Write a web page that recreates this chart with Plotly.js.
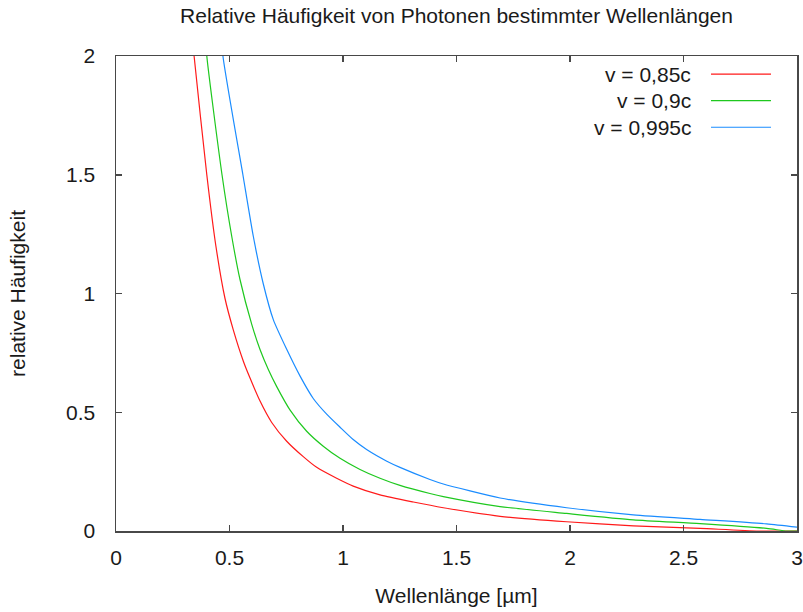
<!DOCTYPE html>
<html>
<head>
<meta charset="utf-8">
<script src="https://cdn.plot.ly/plotly-3.0.1.min.js"></script>
<style>body{margin:0;background:#fff}</style>
</head>
<body>
<div id="chart" style="width:803px;height:612px"></div>
<script>
// Series names
const seriesNames = ["v = 0,85c", "v = 0,9c", "v = 0,995c"];
const seriesColors = ["#ff1a1a", "#1ec81e", "#1a8cff"];

// v = 0,85c
const redX = [0.33, 0.344, 0.40, 0.44, 0.48, 0.517, 0.561, 0.59, 0.634, 0.686, 0.752, 0.825, 0.884, 0.972, 1.045, 1.163, 1.31, 1.442, 1.692, 1.985, 2.279, 2.573, 2.83, 3.0];
const redY = [2.15, 2.0, 1.5, 1.2, 0.98, 0.846, 0.715, 0.645, 0.548, 0.457, 0.378, 0.313, 0.268, 0.222, 0.189, 0.152, 0.122, 0.098, 0.062, 0.039, 0.022, 0.011, 0.0, 0.0];

// v = 0,9c
const greenX = [0.39, 0.40, 0.467, 0.51, 0.546, 0.598, 0.634, 0.671, 0.708, 0.767, 0.84, 0.913, 0.987, 1.075, 1.163, 1.251, 1.383, 1.442, 1.692, 1.985, 2.279, 2.573, 2.866, 2.955, 3.0];
const greenY = [2.15, 2.0, 1.5, 1.24, 1.06, 0.87, 0.765, 0.68, 0.608, 0.509, 0.42, 0.357, 0.306, 0.259, 0.222, 0.192, 0.158, 0.145, 0.103, 0.074, 0.047, 0.031, 0.011, 0.0, 0.0];

// v = 0,995c
const blueX = [0.46, 0.471, 0.559, 0.605, 0.649, 0.693, 0.752, 0.811, 0.869, 0.928, 0.987, 1.045, 1.104, 1.193, 1.251, 1.383, 1.442, 1.692, 1.985, 2.279, 2.573, 2.866, 3.0];
const blueY = [2.15, 2.0, 1.5, 1.24, 1.04, 0.89, 0.765, 0.652, 0.558, 0.492, 0.437, 0.385, 0.343, 0.294, 0.268, 0.217, 0.198, 0.139, 0.098, 0.068, 0.049, 0.030, 0.016];

// Axis ticks
const xTicks = [0, 0.5, 1, 1.5, 2, 2.5, 3];
const xTickLabels = ["0", "0.5", "1", "1.5", "2", "2.5", "3"];
const yTicks = [0, 0.5, 1, 1.5, 2];
const yTickLabels = ["0", "0.5", "1", "1.5", "2"];

const xs = [redX, greenX, blueX];
const ys = [redY, greenY, blueY];

const traces = seriesNames.map((n, i) => ({
  type: "scatter", mode: "lines", name: n,
  x: xs[i], y: ys[i],
  line: {color: seriesColors[i], width: 1.2, shape: "spline", smoothing: 0.6},
  showlegend: false, hoverinfo: "skip"
}));

const FONT = "Liberation Sans, Arial, sans-serif";
const TXT = "#1a1a1a";
const AXC = "#484848";
const FS = 21;

// legend rows (text right-aligned, sample line to the right)
const legendRowY = [0.962, 0.906, 0.850];
const annotations = seriesNames.map((n, i) => ({
  xref: "paper", yref: "paper", x: 0.847, y: legendRowY[i],
  xanchor: "right", yanchor: "middle", text: n, showarrow: false,
  font: {family: FONT, size: FS, color: TXT}
}));
const shapes = seriesNames.map((n, i) => ({
  type: "line", xref: "paper", yref: "paper",
  x0: 0.8737, x1: 0.9618, y0: legendRowY[i], y1: legendRowY[i],
  line: {color: seriesColors[i], width: 1.2}
}));

const axisCommon = {
  showgrid: false, zeroline: false, showline: true, mirror: "ticks",
  linecolor: AXC, linewidth: 1.5,
  ticks: "inside", ticklen: 6, tickwidth: 1.5, tickcolor: AXC,
  tickfont: {family: FONT, size: FS, color: TXT},
  fixedrange: true
};

const layout = {
  width: 803, height: 612,
  margin: {l: 116, r: 6, t: 56, b: 81},
  paper_bgcolor: "#ffffff", plot_bgcolor: "#ffffff",
  font: {family: FONT, color: TXT},
  title: {
    text: "Relative Häufigkeit von Photonen bestimmter Wellenlängen",
    font: {family: FONT, size: FS, color: TXT},
    x: 0.5, xref: "paper", y: 0.975, yref: "container", yanchor: "middle"
  },
  xaxis: Object.assign({}, axisCommon, {
    range: [0, 3], tickmode: "array", tickvals: xTicks, ticktext: xTickLabels,
    ticklabelstandoff: 7,
    title: {text: "Wellenlänge [µm]", font: {family: FONT, size: FS, color: TXT}, standoff: 20}
  }),
  yaxis: Object.assign({}, axisCommon, {
    range: [0, 2], tickmode: "array", tickvals: yTicks, ticktext: yTickLabels,
    ticklabelstandoff: 15,
    title: {text: "relative Häufigkeit", font: {family: FONT, size: FS, color: TXT}, standoff: 34}
  }),
  annotations: annotations,
  shapes: shapes
};

Plotly.newPlot("chart", traces, layout, {staticPlot: true, displayModeBar: false});
</script>
</body>
</html>
